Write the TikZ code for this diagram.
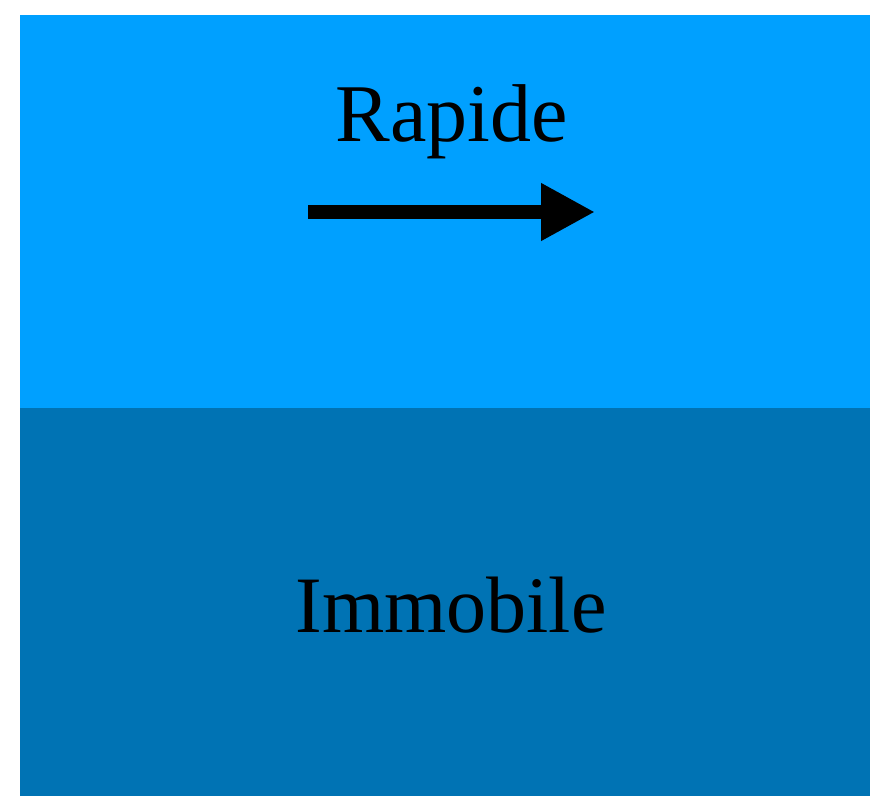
\documentclass[tikz,border=0pt]{standalone}
\usepackage{fontspec}
\setmainfont{Liberation Serif}
\usepackage{tikz}
\usetikzlibrary{positioning,arrows.meta,calc}

\definecolor{fastblue}{RGB}{0,160,255}
\definecolor{stillblue}{RGB}{0,115,180}

\begin{document}
\begin{tikzpicture}[x=0.5pt, y=-0.5pt, >={Triangle[length=27pt, width=27pt]}]
    \useasboundingbox (0,0) rectangle (870,796);
    \fill[fastblue] (20,15) rectangle (870,408);
    \fill[stillblue] (20,408) rectangle (870,796);

    \node[anchor=base, inner sep=0pt, font=\fontsize{41}{49}\selectfont] (rapide) at (452,142) {Rapide};
    \node[anchor=base, inner sep=0pt, font=\fontsize{40}{48}\selectfont] (immobile) at (451,632) {Immobile};

    \coordinate (flowstart) at (308,212);
    \coordinate (flowend) at (595,212);
    \draw[->, line width=7pt] (flowstart) -- (flowend);
\end{tikzpicture}
\end{document}
